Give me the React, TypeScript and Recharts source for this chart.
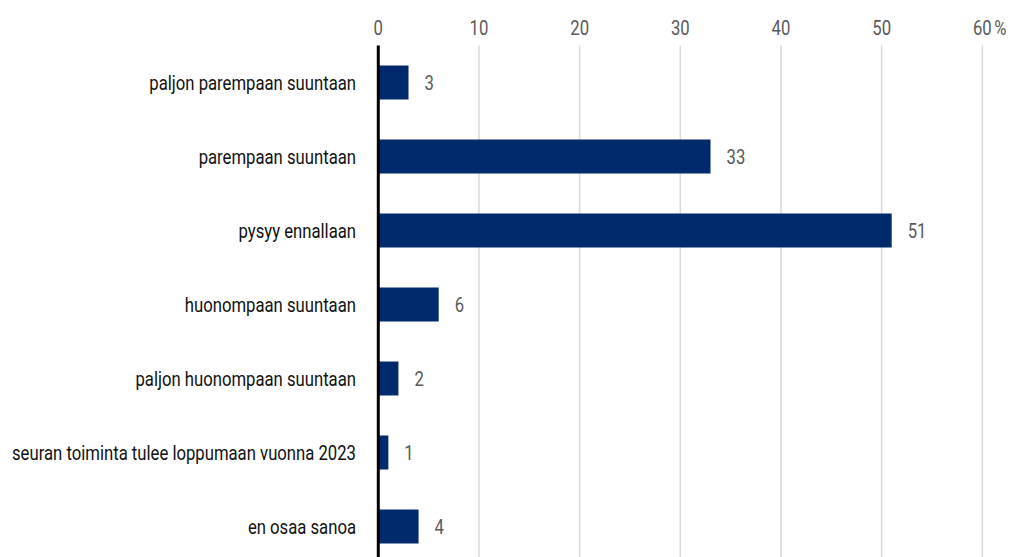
import React from "react";
import { BarChart, Bar, XAxis, YAxis, CartesianGrid, LabelList } from "recharts";

const categories = [
  "paljon parempaan suuntaan",
  "parempaan suuntaan",
  "pysyy ennallaan",
  "huonompaan suuntaan",
  "paljon huonompaan suuntaan",
  "seuran toiminta tulee loppumaan vuonna 2023",
  "en osaa sanoa",
];
const values = [3, 33, 51, 6, 2, 1, 4];
const ticks = [0, 10, 20, 30, 40, 50, 60];

const data = categories.map((c, i) => ({ name: c, value: values[i] }));

const FONT = "Roboto, 'Noto Sans', sans-serif";
const SX = 0.835;
const FS = 20;

const NText = ({ x, y, anchor, fill, children }: any) => (
  <g transform={`translate(${x},${y}) scale(${SX},1)`}>
    <text x={0} y={0} textAnchor={anchor} fontFamily={FONT} fontSize={FS} fill={fill}>
      {children}
    </text>
  </g>
);

const XTick = (props: any) => {
  const { x, payload } = props;
  const last = payload.value === 60;
  return (
    <g>
      <NText x={x} y={27} anchor="middle" fill="#595959">
        {payload.value}
      </NText>
      {last && (
        <NText x={x + 12} y={27} anchor="start" fill="#595959">
          %
        </NText>
      )}
    </g>
  );
};

const YTick = (props: any) => {
  const { y, payload } = props;
  return (
    <NText x={348} y={y + 7} anchor="end" fill="#111111">
      {payload.value}
    </NText>
  );
};

const ValueLabel = (props: any) => {
  const { x, y, width, height, value } = props;
  return (
    <NText x={x + width + 16} y={y + height / 2 + 7} anchor="start" fill="#595959">
      {value}
    </NText>
  );
};

export default function App() {
  return (
    <BarChart
      width={1009}
      height={560}
      data={data}
      layout="vertical"
      margin={{ top: 0, right: 34.7, bottom: 4.5, left: 0 }}
    >
      <CartesianGrid horizontal={false} vertical={true} stroke="#d9d9d9" strokeWidth={1.5} />
      <XAxis
        type="number"
        orientation="top"
        domain={[0, 60]}
        ticks={ticks}
        axisLine={false}
        tickLine={false}
        height={37.5}
        tick={<XTick />}
      />
      <YAxis
        type="category"
        dataKey="name"
        width={370.3}
        axisLine={{ stroke: "#000000", strokeWidth: 3 }}
        tickLine={false}
        tick={<YTick />}
        interval={0}
      />
      <Bar dataKey="value" fill="#002a6c" barSize={34} isAnimationActive={false}>
        <LabelList dataKey="value" content={<ValueLabel />} />
      </Bar>
    </BarChart>
  );
}
